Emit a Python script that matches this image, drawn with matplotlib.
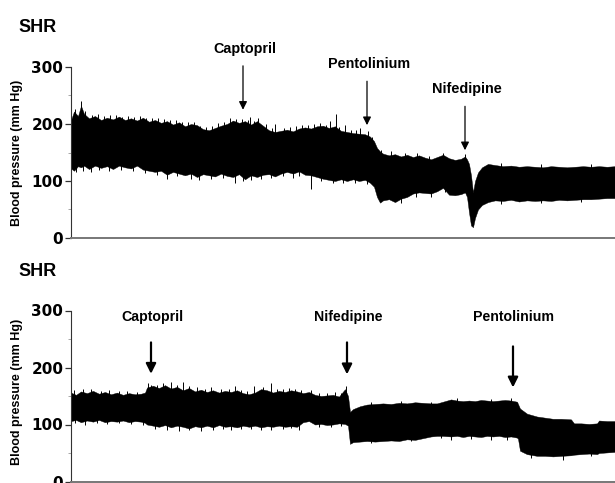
import numpy as np
import matplotlib.pyplot as plt

plt.rcParams['font.family'] = ['Liberation Sans', 'DejaVu Sans']

# ---- upper recording (SHR): captopril, pentolinium, nifedipine ----
# envelope of the pulsatile trace, time in arbitrary units, mm Hg
top_t = [0, 3, 7, 10, 13, 18, 24, 30, 36, 42, 48, 54, 60, 66, 72, 78, 84, 90, 96,
         102, 108, 114, 120, 126, 132, 138, 144, 150, 156, 162, 168, 174, 180, 186,
         192, 198, 204, 210, 216, 222, 228, 234, 240, 246, 252, 258, 264, 270, 276,
         282, 288, 294, 299, 303, 306, 309, 312, 318, 324, 330, 336, 342, 348, 354,
         360, 366, 372, 378, 384, 390, 394, 396, 398, 400, 402, 404, 407, 411, 417,
         424, 432, 440, 448, 456, 464, 472, 480, 488, 496, 504, 512, 520, 528, 536, 544]
top_upper = [207, 222, 214, 232, 218, 210, 214, 207, 211, 208, 213, 207, 210, 206, 211,
             204, 207, 202, 205, 199, 203, 196, 200, 198, 191, 189, 193, 197, 200, 206,
             202, 205, 199, 205, 197, 189, 186, 188, 190, 187, 192, 194, 192, 196, 197,
             193, 196, 188, 186, 184, 183, 182, 178, 170, 158, 152, 148, 145, 147, 143,
             146, 142, 145, 141, 138, 142, 146, 140, 137, 139, 143, 138, 130, 110, 80,
             100, 115, 124, 130, 128, 126, 127, 125, 126, 125, 124, 126, 125, 124, 125,
             126, 125, 126, 125, 126]
top_lower = [122, 118, 126, 124, 127, 121, 127, 123, 126, 121, 127, 124, 122, 127, 120,
             118, 116, 118, 111, 116, 113, 110, 113, 107, 112, 110, 108, 113, 109, 107,
             112, 103, 110, 107, 111, 112, 108, 113, 116, 113, 117, 111, 110, 107, 104,
             102, 100, 103, 100, 103, 100, 102, 97, 90, 72, 62, 66, 68, 63, 69, 72, 78,
             80, 79, 78, 82, 88, 76, 75, 77, 80, 72, 45, 22, 19, 35, 50, 58, 63, 66, 65,
             67, 64, 66, 65, 66, 65, 67, 66, 67, 68, 68, 69, 70, 70]
# single beats poking out of the envelope
top_spike_t = [4, 10, 14, 21, 27, 33, 39, 45, 51, 57, 63, 69, 75, 81, 87, 93, 99, 105,
               111, 117, 123, 129, 135, 141, 147, 153, 159, 165, 171, 177, 179, 183,
               187, 195, 201, 204, 213, 219, 225, 231, 237, 243, 249, 255, 259, 265,
               268, 274, 280, 285, 289, 297, 301, 310, 320, 334, 346, 358, 372, 394,
               430, 470, 520]
top_spike_hi = [226, 240, 222, 216, 217, 214, 215, 216, 213, 214, 212, 214, 210, 211,
                210, 208, 207, 207, 204, 203, 203, 197, 195, 197, 201, 204, 210, 209,
                208, 207, 212, 206, 210, 200, 193, 200, 193, 194, 196, 198, 198, 200,
                202, 199, 205, 218, 195, 198, 190, 189, 193, 188, 178, 155, 152, 150,
                150, 144, 150, 148, 131, 130, 129]
top_dip_t = [5, 12, 20, 28, 38, 50, 62, 74, 86, 96, 106, 120, 128, 140, 152, 164, 172,
             180, 190, 200, 212, 222, 228, 240, 250, 262, 272, 284, 296, 330, 345,
             360, 374, 430, 470, 510]
top_dip_lo = [115, 118, 116, 120, 118, 120, 118, 114, 110, 104, 108, 104, 102, 104, 106,
              96, 100, 102, 104, 106, 108, 106, 108, 86, 100, 96, 96, 96, 94, 62, 72,
              72, 80, 60, 61, 63]
top_drugs = ['Captopril', 'Pentolinium', 'Nifedipine']
top_drug_t = [172, 296, 394]
top_arrow_tip = [225, 198, 154]

# ---- lower recording (SHR): captopril, nifedipine, pentolinium ----
bot_t = [0, 5, 10, 16, 22, 28, 34, 40, 46, 52, 58, 64, 70, 74, 76, 82, 88, 94, 100,
         106, 112, 118, 124, 130, 136, 142, 148, 154, 160, 166, 172, 178, 184, 190,
         196, 202, 208, 214, 220, 226, 232, 238, 244, 250, 256, 262, 268, 274, 277,
         279, 282, 289, 296, 304, 312, 320, 328, 336, 344, 352, 360, 366, 372, 380,
         386, 392, 398, 404, 410, 416, 422, 428, 434, 440, 446, 447, 449, 456, 466,
         474, 482, 490, 500, 503, 510, 518, 526, 528, 536, 544]
bot_upper = [156, 152, 158, 155, 159, 154, 157, 153, 156, 152, 155, 153, 154, 156, 165,
             168, 164, 169, 163, 166, 160, 164, 158, 161, 157, 160, 156, 159, 157, 160,
             155, 153, 156, 162, 160, 156, 159, 157, 160, 158, 155, 157, 152, 150, 151,
             152, 149, 162, 150, 122, 127, 132, 135, 136, 137, 136, 138, 137, 139, 138,
             137, 137, 140, 144, 142, 141, 142, 141, 143, 142, 141, 142, 143, 142, 140,
             136, 128, 119, 114, 112, 110, 110, 109, 102, 102, 101, 102, 107, 106, 106]
bot_lower = [106, 108, 104, 107, 105, 108, 104, 106, 105, 107, 104, 106, 105, 103, 100,
             98, 96, 99, 95, 98, 96, 93, 97, 95, 98, 95, 99, 96, 97, 95, 98, 96, 98, 95,
             97, 96, 98, 96, 97, 96, 104, 106, 100, 101, 99, 100, 102, 101, 98, 66, 69,
             70, 71, 70, 71, 72, 71, 74, 73, 76, 79, 80, 80, 79, 80, 78, 80, 79, 78, 80,
             79, 80, 78, 79, 77, 75, 54, 48, 45, 45, 44, 45, 46, 47, 48, 49, 48, 50, 51, 52]
bot_spike_t = [3, 12, 20, 30, 38, 48, 56, 66, 77, 80, 86, 92, 100, 106, 112, 118, 126,
               134, 140, 150, 158, 164, 170, 176, 183, 192, 200, 206, 212, 218, 224,
               230, 240, 248, 256, 264, 270, 275, 300, 330, 360, 386, 420, 440]
bot_spike_hi = [160, 162, 162, 158, 160, 159, 158, 157, 172, 170, 170, 172, 175, 170,
                175, 168, 165, 163, 165, 163, 162, 168, 160, 158, 167, 166, 172, 162,
                162, 164, 163, 160, 161, 156, 156, 157, 155, 168, 139, 141, 140, 147,
                145, 146]
bot_dip_t = [4, 14, 26, 36, 48, 60, 72, 84, 96, 108, 118, 130, 142, 152, 160, 170, 180,
             190, 200, 212, 220, 228, 248, 260, 270, 300, 340, 370, 380, 400, 420, 436,
             460, 492, 520]
bot_dip_lo = [102, 100, 103, 101, 102, 101, 100, 92, 91, 89, 90, 88, 91, 92, 90, 92, 92,
              91, 90, 92, 93, 91, 96, 96, 98, 68, 71, 76, 72, 75, 73, 72, 42, 38, 45]
bot_drugs = ['Captopril', 'Nifedipine', 'Pentolinium']
bot_drug_t = [80, 276, 442]
bot_arrow_tip = [189, 188, 165]
bot_arrow_top = [244, 244, 237]

fig = plt.figure(figsize=(6.15, 4.83), dpi=100)
ax1 = fig.add_axes([71 / 615, 245 / 483, 544 / 615, 171 / 483])
ax2 = fig.add_axes([71 / 615, 1.5 / 483, 544 / 615, 171 / 483])


def style_axes(ax):
    ax.set_xlim(0, 544)
    ax.set_ylim(0, 300)
    for s in ['top', 'right']:
        ax.spines[s].set_visible(False)
    ax.spines['left'].set_color('#333333')
    ax.spines['bottom'].set_color('#777777')
    ax.spines['bottom'].set_linewidth(1.4)
    ax.set_xticks([])
    ax.set_yticks([0, 100, 200, 300])
    ax.set_yticks([50, 150, 250], minor=True)
    ax.tick_params(axis='y', which='major', length=4.5, width=0.9, color='#333333', pad=1)
    ax.tick_params(axis='y', which='minor', length=2.5, width=0.6, color='#999999')
    for lab in ax.get_yticklabels():
        lab.set_fontfamily('DejaVu Sans')
        lab.set_fontweight('bold')
        lab.set_fontsize(11)


def draw_trace(ax, t, up, lo, sp_t, sp_hi, dp_t, dp_lo):
    ax.fill_between(t, lo, up, color='black', linewidth=0.3, edgecolor='black')
    ax.vlines(sp_t, np.array(sp_hi) - 30, sp_hi, color='black', linewidth=0.7)
    ax.vlines(dp_t, dp_lo, np.array(dp_lo) + 30, color='black', linewidth=0.7)


style_axes(ax1)
style_axes(ax2)
draw_trace(ax1, top_t, top_upper, top_lower, top_spike_t, top_spike_hi, top_dip_t, top_dip_lo)
draw_trace(ax2, bot_t, bot_upper, bot_lower, bot_spike_t, bot_spike_hi, bot_dip_t, bot_dip_lo)

# arrows + drug names, upper panel
for name, t, tip in zip(top_drugs, top_drug_t, top_arrow_tip):
    ax1.annotate('', xy=(t, tip), xytext=(t, tip + 77), annotation_clip=False,
                 arrowprops=dict(arrowstyle='-|>', color='black', lw=0.9,
                                 mutation_scale=12, shrinkA=0, shrinkB=0))
    ax1.text(t + 2, tip + 107, name, ha='center', va='center',
             fontsize=10.4, fontweight='bold')

# arrows + drug names, lower panel
for name, t, tip, top in zip(bot_drugs, bot_drug_t, bot_arrow_tip, bot_arrow_top):
    ax2.annotate('', xy=(t, tip), xytext=(t, top), annotation_clip=False,
                 arrowprops=dict(arrowstyle='-|>', color='black', lw=1.6,
                                 mutation_scale=15, shrinkA=0, shrinkB=0))
    ax2.text(t + 1, 289, name, ha='center', va='center',
             fontsize=10.2, fontweight='bold')

fig.text(18 / 615, 1 - 27 / 483, 'SHR', ha='left', va='center',
         fontsize=13, fontweight='bold')
fig.text(18 / 615, 1 - 271 / 483, 'SHR', ha='left', va='center',
         fontsize=13, fontweight='bold')
fig.text(17 / 615, 1 - 153 / 483, 'Blood pressure (mm Hg)', rotation=90,
         ha='center', va='center', fontsize=9, fontweight='bold')
fig.text(17 / 615, 1 - 392 / 483, 'Blood pressure (mm Hg)', rotation=90,
         ha='center', va='center', fontsize=9, fontweight='bold')

fig.savefig('out.png', dpi=100)
